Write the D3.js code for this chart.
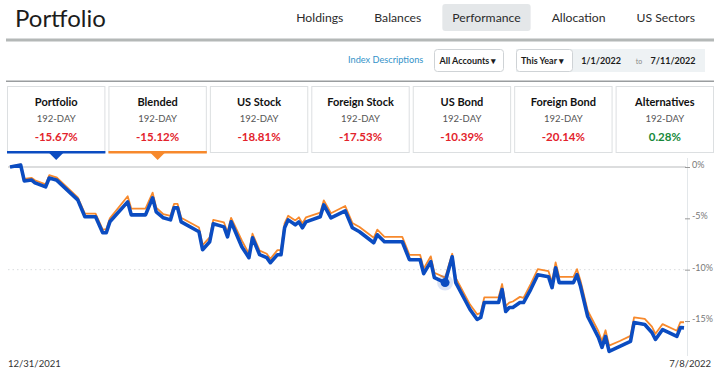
<!DOCTYPE html>
<html>
<head>
<meta charset="utf-8">
<script src="https://cdn.jsdelivr.net/npm/d3@7"></script>
<style>
body { margin: 0; background: #fff; }
svg text { font-family: Lato, "Open Sans", sans-serif; }
</style>
</head>
<body>
<div id="main"></div>
<script>
const ctx = {
    w: 720,
    h: 376,
    BLUE: "#0b4cc1",
    ORANGE: "#f7892c",
    RED: "#e3232c",
    GREEN: "#17893b",
};

// header / filter texts
const pageTitle = "Portfolio";
const navItems = ["Holdings", "Balances", "Performance", "Allocation", "US Sectors"];
const activeNav = "Performance";
const indexLink = "Index Descriptions";
const accountFilter = "All Accounts";
const periodFilter = "This Year";
const dateRange = ["1/1/2022", "7/11/2022"];

// summary cards
const cardNames = ["Portfolio", "Blended", "US Stock", "Foreign Stock", "US Bond", "Foreign Bond", "Alternatives"];
const cardPeriod = "192-DAY";
const cardReturns = [-15.67, -15.12, -18.81, -17.53, -10.39, -20.14, 0.28];

// chart series (cumulative return, %)
const dates = [
    "2021-12-31","2022-01-03","2022-01-04","2022-01-06","2022-01-07","2022-01-10","2022-01-11","2022-01-13",
    "2022-01-19","2022-01-21","2022-01-24","2022-01-26","2022-01-27","2022-01-28","2022-02-02","2022-02-03",
    "2022-02-07","2022-02-09","2022-02-10","2022-02-12","2022-02-14","2022-02-15","2022-02-16","2022-02-17",
    "2022-02-22","2022-02-23","2022-02-25","2022-02-26","2022-03-01","2022-03-02","2022-03-03","2022-03-06",
    "2022-03-08","2022-03-09","2022-03-11","2022-03-13","2022-03-14","2022-03-16","2022-03-17","2022-03-18",
    "2022-03-19","2022-03-21","2022-03-22","2022-03-23","2022-03-24","2022-03-28","2022-03-29","2022-03-31",
    "2022-04-04","2022-04-06","2022-04-08","2022-04-12","2022-04-13","2022-04-15","2022-04-20","2022-04-22",
    "2022-04-25","2022-04-26","2022-04-28","2022-04-29","2022-05-02","2022-05-04","2022-05-05","2022-05-09",
    "2022-05-11","2022-05-12","2022-05-13","2022-05-17","2022-05-18","2022-05-19","2022-05-20","2022-05-21",
    "2022-05-23","2022-05-24","2022-05-26","2022-05-28","2022-05-31","2022-06-01","2022-06-02","2022-06-03",
    "2022-06-07","2022-06-08","2022-06-09","2022-06-11","2022-06-14","2022-06-15","2022-06-16","2022-06-17",
    "2022-06-20","2022-06-23","2022-06-24","2022-06-27","2022-06-29","2022-06-30","2022-07-02","2022-07-06",
    "2022-07-07","2022-07-08"
];
const portfolioPct = [
    0.00, 0.19, -1.36, -1.26, -1.55, -1.94, -1.07, -1.26,
    -3.20, -4.85, -4.85, -6.40, -6.40, -5.34, -3.40, -4.66,
    -4.66, -3.00, -4.37, -4.95, -5.15, -3.98, -3.98, -5.34,
    -6.31, -8.06, -7.28, -5.53, -5.83, -6.80, -5.34, -7.77,
    -8.83, -6.89, -8.54, -8.83, -9.32, -8.54, -8.54, -5.92,
    -5.15, -5.63, -5.34, -5.92, -5.34, -4.85, -3.69, -4.95,
    -4.27, -5.92, -6.31, -7.38, -6.60, -7.28, -7.28, -9.03,
    -9.03, -10.39, -9.22, -10.78, -11.26, -8.74, -11.26, -13.88,
    -14.85, -14.66, -13.20, -13.20, -11.94, -14.08, -13.69, -13.69,
    -13.20, -13.20, -11.94, -10.49, -10.68, -11.75, -9.81, -11.26,
    -11.26, -10.49, -11.65, -14.56, -16.60, -17.57, -16.50, -17.96,
    -17.48, -16.99, -15.15, -15.34, -16.12, -16.80, -15.83, -16.50,
    -15.63, -15.67
];
const blendedPct = [
    0.00, 0.25, -1.15, -1.05, -1.30, -1.70, -0.80, -1.00,
    -2.95, -4.55, -4.55, -6.10, -6.05, -5.00, -2.85, -4.05,
    -4.05, -2.50, -3.95, -4.60, -4.75, -3.60, -3.60, -4.95,
    -5.90, -7.60, -6.85, -5.15, -5.40, -6.35, -4.95, -7.15,
    -8.45, -6.50, -8.15, -8.45, -8.95, -8.10, -8.10, -5.50,
    -4.75, -5.20, -4.90, -5.50, -4.90, -4.45, -3.25, -4.50,
    -3.80, -5.45, -5.85, -6.90, -6.10, -6.80, -6.80, -8.55,
    -8.55, -9.90, -8.70, -10.30, -10.78, -8.45, -10.80, -13.40,
    -14.35, -14.20, -12.70, -12.70, -11.40, -13.55, -13.20, -13.10,
    -12.65, -12.75, -11.40, -9.95, -10.15, -11.20, -9.30, -10.70,
    -10.70, -9.95, -11.10, -14.00, -16.00, -16.95, -15.90, -17.40,
    -16.95, -16.45, -14.65, -14.80, -15.55, -16.25, -15.30, -15.95,
    -15.10, -15.12
];
const hoverDate = "2022-05-02";
const yTicks = [0, -5, -10, -15];
const xLabels = ["12/31/2021", "7/8/2022"];

const parseDate = d3.timeParse("%Y-%m-%d");

function drawHeader(svg){
    svg.append("text")
       .attr("x", 15).attr("y", 27)
       .style("font-size", "24px").style("fill", "#1c1c1c")
       .text(pageTitle);
    // nav items are flowed right-to-left with a fixed gap
    let navG = svg.append("g");
    let txt = navG.selectAll("text").data(navItems).enter()
                  .append("text")
                  .attr("y", 21.5)
                  .style("font-size", "12.2px").style("fill", "#2b2b2b")
                  .text(d => d);
    let widths = [];
    txt.each(function(){ widths.push(this.getComputedTextLength()); });
    let right = 695, xs = [];
    for (let i = navItems.length - 1; i >= 0; i--){
        xs[i] = right - widths[i];
        right = xs[i] - 31;
    }
    txt.attr("x", (d, i) => xs[i]);
    let ai = navItems.indexOf(activeNav);
    navG.insert("rect", "text")
        .attr("x", xs[ai] - 10).attr("y", 4)
        .attr("width", widths[ai] + 20).attr("height", 27)
        .attr("rx", 3).style("fill", "#e4e7e9");
    svg.append("rect")
       .attr("x", 6).attr("y", 38.5).attr("width", 708).attr("height", 3)
       .style("fill", "#b4b8b7");
}

function drawFilters(svg){
    svg.append("text")
       .attr("x", 348).attr("y", 63)
       .style("font-size", "9.2px").style("fill", "#3493c9")
       .text(indexLink);
    svg.append("rect")
       .attr("x", 434.5).attr("y", 49.5).attr("width", 69).attr("height", 22)
       .attr("rx", 3).style("fill", "#fff").style("stroke", "#cfd3d6");
    svg.append("text")
       .attr("x", 439.5).attr("y", 63.5)
       .style("font-size", "9px").style("font-weight", "bold").style("fill", "#1c1c1c")
       .text(accountFilter + " \u25BE");
    svg.append("rect")
       .attr("x", 516).attr("y", 49).attr("width", 189).attr("height", 23)
       .style("fill", "#eef2f4");
    svg.append("rect")
       .attr("x", 516.5).attr("y", 49.5).attr("width", 56).attr("height", 22)
       .attr("rx", 3).style("fill", "#fff").style("stroke", "#cfd3d6");
    svg.append("text")
       .attr("x", 521).attr("y", 63.5)
       .style("font-size", "9px").style("font-weight", "bold").style("fill", "#1c1c1c")
       .text(periodFilter + " \u25BE");
    svg.append("text")
       .attr("x", 601).attr("y", 63.5).attr("text-anchor", "middle")
       .style("font-size", "9px").style("font-weight", "bold").style("fill", "#1c1c1c")
       .text(dateRange[0]);
    svg.append("text")
       .attr("x", 639).attr("y", 63.5).attr("text-anchor", "middle")
       .style("font-size", "7px").style("fill", "#888")
       .text("to");
    svg.append("text")
       .attr("x", 673).attr("y", 63.5).attr("text-anchor", "middle")
       .style("font-size", "9px").style("font-weight", "bold").style("fill", "#1c1c1c")
       .text(dateRange[1]);
    svg.append("rect")
       .attr("x", 6).attr("y", 80.5).attr("width", 708).attr("height", 1.5)
       .style("fill", "#9a9d9f");
}

function drawCards(svg){
    let band = d3.scaleBand().domain(cardNames).range([7, 714]).paddingInner(0.03);
    let g = svg.append("g").selectAll("g").data(cardNames).enter()
               .append("g")
               .attr("transform", d => `translate(${band(d)},0)`);
    g.append("rect")
     .attr("x", 0.5).attr("y", 86.5)
     .attr("width", band.bandwidth() - 1).attr("height", 66)
     .style("fill", "#fff").style("stroke", "#dcdfe1");
    let cx = band.bandwidth() / 2;
    g.append("text").attr("x", cx).attr("y", 105.5).attr("text-anchor", "middle")
     .style("font-size", "11px").style("font-weight", "bold").style("fill", "#111")
     .text(d => d);
    g.append("text").attr("x", cx).attr("y", 122).attr("text-anchor", "middle")
     .style("font-size", "9.5px").style("fill", "#555")
     .text(cardPeriod);
    g.append("text").attr("x", cx).attr("y", 141).attr("text-anchor", "middle")
     .style("font-size", "11.5px").style("font-weight", "bold")
     .style("fill", (d, i) => cardReturns[i] < 0 ? ctx.RED : ctx.GREEN)
     .text((d, i) => cardReturns[i].toFixed(2) + "%");
    // selected series markers
    [["Portfolio", ctx.BLUE], ["Blended", ctx.ORANGE]].forEach(function(s){
        let x0 = band(s[0]), mid = x0 + cx;
        svg.append("rect")
           .attr("x", x0).attr("y", 151).attr("width", band.bandwidth()).attr("height", 2.5)
           .style("fill", s[1]);
        svg.append("path")
           .attr("d", `M${mid - 7},153 L${mid + 7},153 L${mid},160 Z`)
           .style("fill", s[1]);
    });
}

function drawChart(svg){
    let pts = dates.map((d, i) => ({date: parseDate(d), p: portfolioPct[i], b: blendedPct[i]}));
    ctx.xScale = d3.scaleTime()
                   .domain(d3.extent(pts, d => d.date))
                   .range([10, 684]);
    ctx.yScale = d3.scaleLinear().domain([0, -15]).range([167, 321]);
    let bkg = svg.append("g");
    // right axis rule
    bkg.append("line")
       .attr("x1", 687.5).attr("x2", 687.5).attr("y1", 158).attr("y2", 356)
       .style("stroke", "#e3e7ea");
    // zero line and dotted -10% guide
    bkg.append("line")
       .attr("x1", 8).attr("x2", 686).attr("y1", ctx.yScale(0)).attr("y2", ctx.yScale(0))
       .style("stroke", "#b9bcbe").style("stroke-width", 1.2);
    bkg.append("line")
       .attr("x1", 8).attr("x2", 686).attr("y1", ctx.yScale(-10)).attr("y2", ctx.yScale(-10))
       .style("stroke", "#d9dcde").style("stroke-dasharray", "1.5,3");
    let ax = bkg.append("g")
                .attr("transform", "translate(685,0)")
                .call(d3.axisRight(ctx.yScale).tickValues(yTicks).tickSize(5).tickPadding(2)
                        .tickFormat(d => d + "%"));
    ax.select(".domain").remove();
    ax.selectAll("line").style("stroke", "#999");
    ax.selectAll("text")
      .attr("dy", "0.05em")
      .style("font-size", "9px").style("fill", "#777")
      .style("font-family", "Lato, sans-serif");
    // date labels
    bkg.append("text").attr("x", 8).attr("y", 367)
       .style("font-size", "9.5px").style("fill", "#333").text(xLabels[0]);
    bkg.append("text").attr("x", 711).attr("y", 367).attr("text-anchor", "end")
       .style("font-size", "9.5px").style("fill", "#333").text(xLabels[1]);

    let lineB = d3.line().x(d => ctx.xScale(d.date)).y(d => ctx.yScale(d.b));
    let lineP = d3.line().x(d => ctx.xScale(d.date)).y(d => ctx.yScale(d.p));
    svg.append("path").datum(pts)
       .attr("d", lineB)
       .style("fill", "none").style("stroke", ctx.ORANGE)
       .style("stroke-width", 1.8).style("stroke-linejoin", "round");
    svg.append("path").datum(pts)
       .attr("d", lineP)
       .style("fill", "none").style("stroke", ctx.BLUE)
       .style("stroke-width", 3.6).style("stroke-linejoin", "round");
    // hover marker
    let hp = pts[dates.indexOf(hoverDate)];
    svg.append("circle")
       .attr("cx", ctx.xScale(hp.date)).attr("cy", ctx.yScale(hp.p)).attr("r", 8)
       .style("fill", ctx.BLUE).style("opacity", 0.15);
    svg.append("circle")
       .attr("cx", ctx.xScale(hp.date)).attr("cy", ctx.yScale(hp.p)).attr("r", 4.5)
       .style("fill", ctx.BLUE);
}

function createViz(){
    let svgEl = d3.select("#main").append("svg")
                  .attr("width", ctx.w).attr("height", ctx.h);
    drawHeader(svgEl);
    drawFilters(svgEl);
    drawCards(svgEl);
    drawChart(svgEl);
}

createViz();
</script>
</body>
</html>
